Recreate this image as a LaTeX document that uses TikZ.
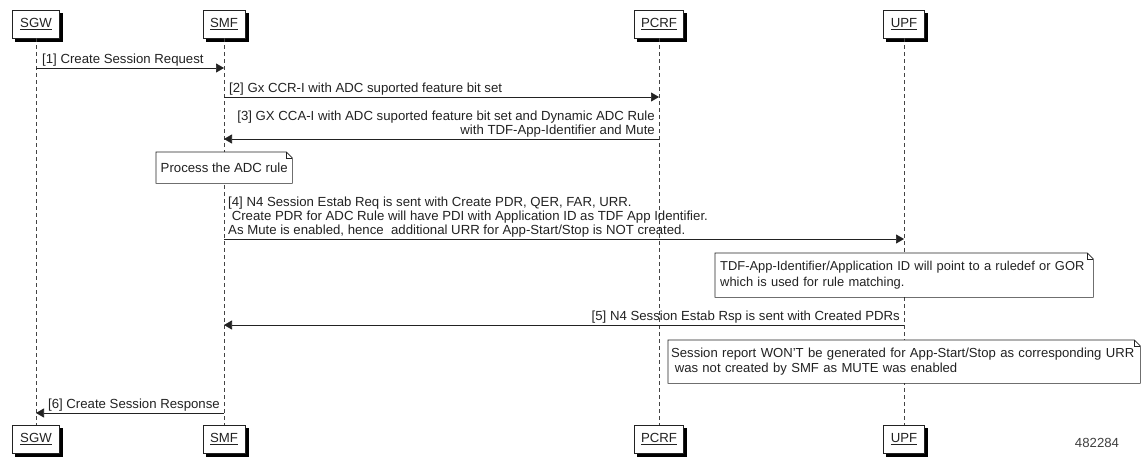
\documentclass[tikz,border=0pt]{standalone}
\usepackage{fontspec}
\setmainfont{Liberation Sans}
\usetikzlibrary{arrows.meta,shadows}
\definecolor{ink}{HTML}{222222}
\definecolor{life}{HTML}{444444}
\newcommand\drawnotefr[1]{%
  \draw[notefr] (#1.north west) -- ([xshift=-6pt]#1.north east) -- ([yshift=-6pt]#1.north east) -- (#1.south east) -- (#1.south west) -- cycle;
  \draw[notefr] ([xshift=-6pt]#1.north east) |- ([yshift=-6pt]#1.north east);}
\begin{document}
\begin{tikzpicture}[x=1pt,y=-1pt,
  font=\fontsize{13.2}{14}\selectfont, text=ink,
  actor/.style={draw=ink, fill=white, minimum height=28pt, inner sep=0pt,
    copy shadow={shadow xshift=3pt, shadow yshift=-3pt, fill=black, draw=black}},
  lifeline/.style={draw=life, dash pattern=on 4pt off 3pt, line width=0.6pt},
  msg/.style={draw=ink, line width=0.7pt, -{Triangle[length=8pt,width=9pt]}},
  lbl/.style={inner sep=1pt, align=left},
  notebox/.style={fill=white, inner xsep=5pt, inner ysep=0pt, anchor=north west},
  notefr/.style={draw=ink, line width=0.6pt}]
\useasboundingbox (0,0) rectangle (1147,457);
% actors top
\node[actor, minimum width=47pt] (sgwT) at (36,24) {\underline{SGW}};
\node[actor, minimum width=42pt] (smfT) at (224,24) {\underline{SMF}};
\node[actor, minimum width=49pt] (pcrfT) at (659,24) {\underline{PCRF}};
\node[actor, minimum width=41pt] (upfT) at (904,24) {\underline{UPF}};
% actors bottom
\node[actor, minimum width=47pt] (sgwB) at (36,439) {\underline{SGW}};
\node[actor, minimum width=42pt] (smfB) at (224,439) {\underline{SMF}};
\node[actor, minimum width=49pt] (pcrfB) at (659,439) {\underline{PCRF}};
\node[actor, minimum width=41pt] (upfB) at (904,439) {\underline{UPF}};
% lifelines
\draw[lifeline] (sgwT) -- (sgwB);
\draw[lifeline] (smfT) -- (smfB);
\draw[lifeline] (pcrfT) -- (pcrfB);
\draw[lifeline] (upfT) -- (upfB);
% messages
\coordinate (m1a) at (sgwT |- 0,68); \coordinate (m1b) at (smfT |- 0,68);
\draw[msg] (m1a) -- (m1b);
\node[lbl, anchor=south west] at ([xshift=5pt,yshift=1pt]m1a) {[1] Create Session Request};

\coordinate (m2a) at (smfT |- 0,97); \coordinate (m2b) at (pcrfT |- 0,97);
\draw[msg] (m2a) -- (m2b);
\node[lbl, anchor=south west] at ([xshift=4pt,yshift=1pt]m2a) {[2] Gx CCR-I with ADC suported feature bit set};

\coordinate (m3a) at (pcrfT |- 0,139); \coordinate (m3b) at (smfT |- 0,139);
\draw[msg] (m3a) -- (m3b);
\node[inner sep=1pt, align=right, anchor=south east] at ([xshift=-3pt,yshift=1pt]m3a) {[3] GX CCA-I with ADC suported feature bit set and Dynamic ADC Rule\\with TDF-App-Identifier and Mute};

\node[notebox, inner xsep=0pt, minimum width=136pt, minimum height=31pt] (n1) at (156,152) {Process the ADC rule};
\drawnotefr{n1}

\coordinate (m4a) at (smfT |- 0,239); \coordinate (m4b) at (upfT |- 0,239);
\draw[msg] (m4a) -- (m4b);
\node[lbl, anchor=south west] at ([xshift=3pt,yshift=1pt]m4a) {[4] N4 Session Estab Req is sent with Create PDR, QER, FAR, URR.\\\hspace*{3.6pt}Create PDR for ADC Rule will have PDI with Application ID as TDF App Identifier.\\As Mute is enabled, hence\ \ additional URR for App-Start/Stop is NOT created.};

\node[notebox, minimum width=378pt, minimum height=44pt, text width=368pt, align=left, font=\fontsize{12.9}{16}\selectfont] (n2) at (715,253) {\mbox{TDF-App-Identifier/Application ID will point to a ruledef or GOR}\\which is used for rule matching.};
\drawnotefr{n2}

\coordinate (m5a) at (upfT |- 0,325); \coordinate (m5b) at (smfT |- 0,325);
\draw[msg] (m5a) -- (m5b);
\node[lbl, anchor=south east] at ([xshift=-3pt,yshift=1pt]m5a) {[5] N4 Session Estab Rsp is sent with Created PDRs};

\node[notebox, minimum width=472pt, minimum height=43pt, text width=466pt, inner xsep=3pt, align=left, font=\fontsize{13.1}{15}\selectfont] (n3) at (668,340) {\mbox{Session report WON'T be generated for App-Start/Stop as corresponding URR}\\\hspace*{3.6pt}was not created by SMF as MUTE was enabled};
\drawnotefr{n3}

\coordinate (m6a) at (smfT |- 0,413); \coordinate (m6b) at (sgwT |- 0,413);
\draw[msg] (m6a) -- (m6b);
\node[lbl, anchor=south east] at ([xshift=-3pt,yshift=1pt]m6a) {[6] Create Session Response};

\node[text=black!75] (fig) at (1097,443) {482284};
\end{tikzpicture}
\end{document}
